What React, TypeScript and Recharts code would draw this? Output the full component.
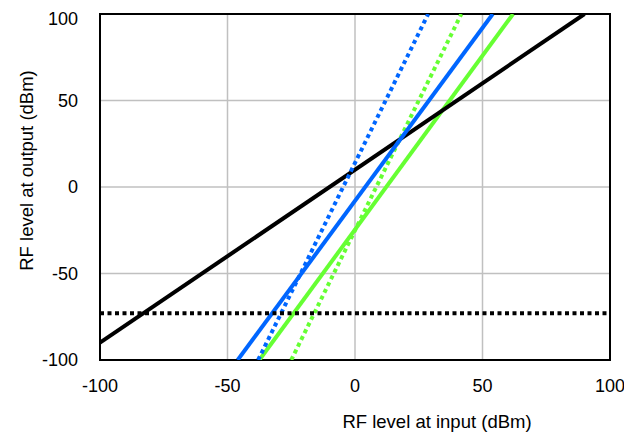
import { LineChart, Line, XAxis, YAxis, CartesianGrid, ReferenceArea } from "recharts";

// axis ticks (dBm)
const xTicks = [-100, -50, 0, 50, 100];
const yTicks = [-100, -50, 0, 50, 100];

// transfer curves, input -> output (dBm)
const blackSolid = [
  { x: -100, y: -90 },
  { x: 90, y: 100 },
];
const blackDotted = [
  { x: -100, y: -73 },
  { x: 100, y: -73 },
];
const blueSolid = [
  { x: -46, y: -100 },
  { x: 54, y: 100 },
];
const blueDotted = [
  { x: -38, y: -100 },
  { x: 28.7, y: 100 },
];
const greenSolid = [
  { x: -37.5, y: -100 },
  { x: 62, y: 100 },
];
const greenDotted = [
  { x: -25, y: -100 },
  { x: 41.7, y: 100 },
];

const font = "'Liberation Sans', Arial, sans-serif";
const blue = "#0066ff";
const green = "#66ff33";

const App = () => {
  return (
    <div style={{ width: 624, height: 428, fontFamily: font }}>
      <LineChart width={624} height={428} margin={{ top: 6, right: 22, left: 0, bottom: 0 }}>
        <CartesianGrid stroke="#c0c0c0" strokeWidth={1.5} />
        <XAxis
          type="number"
          dataKey="x"
          domain={[-100, 100]}
          ticks={xTicks}
          allowDataOverflow
          height={76}
          axisLine={false}
          tickLine={false}
          tickSize={0}
          tickMargin={19}
          tick={{ fill: "#000", fontSize: 18, fontFamily: font }}
          label={{
            content: () => (
              <text x={429} y={420} textAnchor="middle" fontSize={18.5} fontFamily={font} fill="#000">
                RF level at input (dBm)
              </text>
            ),
          }}
        />
        <YAxis
          type="number"
          dataKey="y"
          domain={[-100, 100]}
          ticks={yTicks}
          allowDataOverflow
          width={92}
          axisLine={false}
          tickLine={false}
          tickSize={0}
          tickMargin={22}
          tick={{ fill: "#000", fontSize: 18, fontFamily: font }}
          label={{
            content: () => (
              <text
                x={25}
                y={162.5}
                transform="rotate(-90, 25, 162.5)"
                textAnchor="middle"
                fontSize={18.5}
                fontFamily={font}
                fill="#000"
              >
                RF level at output (dBm)
              </text>
            ),
          }}
        />
        <ReferenceArea x1={-100} x2={100} y1={-100} y2={100} fill="none" stroke="#000" strokeWidth={2} fillOpacity={0} />
        <Line data={greenSolid} dataKey="y" stroke={green} strokeWidth={4} dot={false} isAnimationActive={false} />
        <Line data={blackSolid} dataKey="y" stroke="#000" strokeWidth={4} dot={false} isAnimationActive={false} />
        <Line data={greenDotted} dataKey="y" stroke={green} strokeWidth={4} strokeDasharray="4 3.5" dot={false} isAnimationActive={false} />
        <Line data={blueSolid} dataKey="y" stroke={blue} strokeWidth={4} dot={false} isAnimationActive={false} />
        <Line data={blueDotted} dataKey="y" stroke={blue} strokeWidth={4} strokeDasharray="4 3.5" dot={false} isAnimationActive={false} />
        <Line data={blackDotted} dataKey="y" stroke="#000" strokeWidth={4} strokeDasharray="4 3.5" dot={false} isAnimationActive={false} />
      </LineChart>
    </div>
  );
};

export default App;
